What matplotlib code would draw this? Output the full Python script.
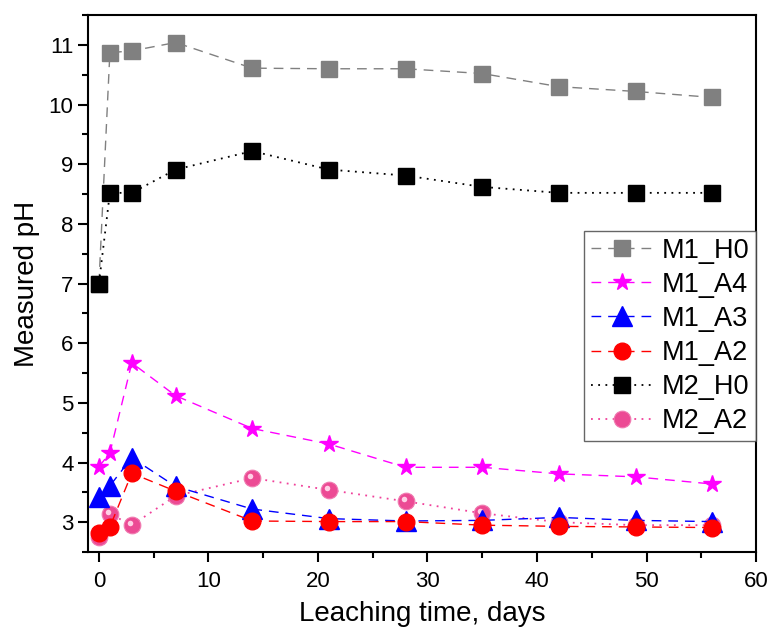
import matplotlib
matplotlib.use('Agg')
import matplotlib.pyplot as plt
from matplotlib.ticker import MultipleLocator
from matplotlib.transforms import ScaledTranslation

plt.rcParams['font.family'] = ['Liberation Sans', 'DejaVu Sans']

days = [0, 1, 3, 7, 14, 21, 28, 35, 42, 49, 56]

m1_h0 = [7.0, 10.87, 10.9, 11.04, 10.61, 10.6, 10.6, 10.52, 10.3, 10.22, 10.12]
m1_a4 = [3.93, 4.16, 5.67, 5.12, 4.57, 4.31, 3.92, 3.92, 3.81, 3.76, 3.64]
m1_a3 = [3.43, 3.61, 4.08, 3.6, 3.22, 3.06, 3.02, 3.03, 3.08, 3.03, 3.01]
m1_a2 = [2.82, 2.92, 3.82, 3.52, 3.02, 3.01, 3.01, 2.95, 2.93, 2.92, 2.91]
m2_h0 = [7.0, 8.52, 8.52, 8.91, 9.22, 8.91, 8.81, 8.62, 8.52, 8.52, 8.52]
m2_a2 = [2.75, 3.14, 2.95, 3.44, 3.74, 3.54, 3.35, 3.15, 3.0, 2.95, 2.95]

fig = plt.figure(figsize=(7.67, 6.28), dpi=100)
ax = fig.add_axes([0.1147, 0.121, 0.871, 0.855])

dash = (0, (7, 5))
dot = (0, (1, 3))
ax.plot(days, m1_h0, color='#808080', linestyle=dash, lw=1, marker='s', ms=11,
        markeredgecolor='#808080', label='M1_H0', zorder=3)
ax.plot(days, m1_a4, color='#FF00FF', linestyle=dash, lw=1, marker='*', ms=13,
        markeredgecolor='#FF00FF', label='M1_A4', zorder=3)
ax.plot(days, m1_a3, color='#0000FF', linestyle=dash, lw=1, marker='^', ms=14,
        markeredgecolor='#0000FF', label='M1_A3', zorder=3)
ax.plot(days, m2_h0, color='black', linestyle=dot, lw=1.3, marker='s', ms=11,
        label='M2_H0', zorder=3)
ax.plot(days, m2_a2, color='#F0409A', linestyle=dot, lw=1.3, marker='o',
        ms=12, markerfacecolor='#EC4A94', markeredgecolor='#F07AB0', mew=0.8,
        label='M2_A2', zorder=2)
# small highlight on the spheres
ax.plot(days, m2_a2, linestyle='none', marker='o', ms=4, markerfacecolor='#FFD0E6',
        markeredgecolor='none', zorder=2.1,
        transform=ax.transData + ScaledTranslation(-2 / 100, 2 / 100, fig.dpi_scale_trans))
ax.plot(days, m1_a2, color='#FF0000', linestyle=dash, lw=1, marker='o', ms=12,
        markeredgecolor='#FF0000', label='M1_A2', zorder=3)

ax.set_xlim(-1, 60)
ax.set_ylim(2.5, 11.5)
ax.xaxis.set_major_locator(MultipleLocator(10))
ax.xaxis.set_minor_locator(MultipleLocator(5))
ax.yaxis.set_major_locator(MultipleLocator(1))
ax.yaxis.set_minor_locator(MultipleLocator(0.5))
ax.tick_params(which='major', direction='out', length=7, width=1.5, labelsize=16)
ax.tick_params(which='minor', direction='out', length=4, width=1.5)
ax.tick_params(axis='x', which='major', pad=7)
for s in ax.spines.values():
    s.set_linewidth(1.5)

ax.set_xlabel('Leaching time, days', fontsize=20, labelpad=6)
ax.set_ylabel('Measured pH', fontsize=20, labelpad=6)

handles, labels = ax.get_legend_handles_labels()
order = ['M1_H0', 'M1_A4', 'M1_A3', 'M1_A2', 'M2_H0', 'M2_A2']
hmap = dict(zip(labels, handles))
leg = ax.legend([hmap[k] for k in order], order, loc='upper right',
                bbox_to_anchor=(1.0, 0.598), borderaxespad=0, fontsize=19.5,
                frameon=True, fancybox=False, edgecolor='#404040',
                handlelength=2.3, labelspacing=0.3, handletextpad=0.3,
                borderpad=0.25)
leg.get_frame().set_linewidth(1)

fig.savefig('out.png', dpi=100)
